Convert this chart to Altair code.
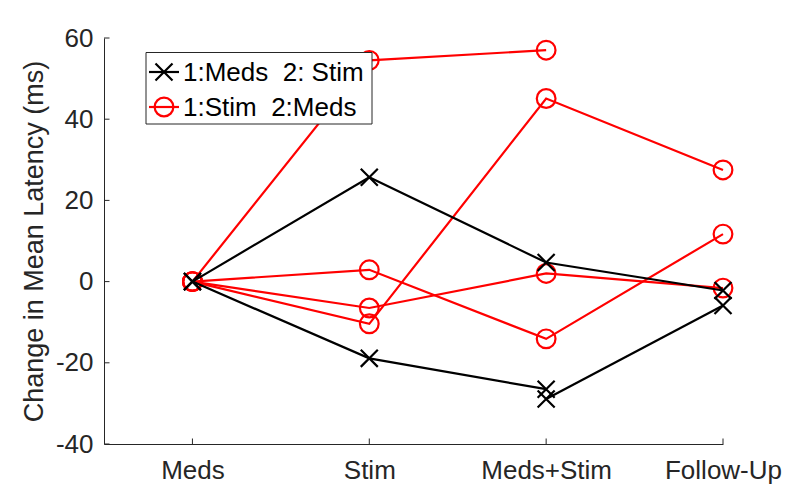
import altair as alt
import pandas as pd

# ---------------- data ----------------
stages = ["Meds", "Stim", "Meds+Stim", "Follow-Up"]
groups = ["1:Meds\u00a0 2: Stim", "1:Stim\u00a0 2:Meds"]

# group 1 (black, x markers)
meds_stim_a = [0, 25.7, 4.7, -2.2]
meds_stim_b = [0, -18.9, -26.5, None]
meds_stim_c = [None, None, -28.9, -5.9]
# group 2 (red, circles)
stim_meds_a = [0, 54.5, 57.0, None]
stim_meds_b = [0, -10.4, 45.1, 27.5]
stim_meds_c = [0, 2.9, -14.1, 11.7]
stim_meds_d = [0, -6.5, 2.0, -1.6]

y_ticks = [-40, -20, 0, 20, 40, 60]
x_ticks = [1, 2, 3, 4]

series = {
    ("g1", "a"): meds_stim_a,
    ("g1", "b"): meds_stim_b,
    ("g1", "c"): meds_stim_c,
    ("g2", "a"): stim_meds_a,
    ("g2", "b"): stim_meds_b,
    ("g2", "c"): stim_meds_c,
    ("g2", "d"): stim_meds_d,
}
rows = []
for (g, s), vals in series.items():
    for i, v in enumerate(vals):
        if v is not None:
            rows.append({"group": g, "series": g + s, "stage": i + 1, "value": v})
df = pd.DataFrame(rows)
df_black = df[df.group == "g1"]
df_red = df[df.group == "g2"]

# ---------------- style ----------------
W, H = 619, 406
AX = "#262626"
FONT = "Liberation Sans"
xscale = alt.Scale(domain=[0.5, 4], nice=False, zero=False)
yscale = alt.Scale(domain=[-40, 60], nice=False, zero=False)
label_expr = "[" + ",".join(f"'{s}'" for s in stages) + "][datum.value - 1]"

xaxis = alt.Axis(values=x_ticks, labelExpr=label_expr, title=None, ticks=False,
                 grid=False, domainColor=AX, domainWidth=1, labelColor=AX,
                 labelFontSize=26, labelFont=FONT, labelPadding=13,
                 labelFlush=False, labelOverlap=False)
yaxis = alt.Axis(values=y_ticks, labelExpr="datum.value + ''",
                 title="Change in Mean Latency (ms)", ticks=False,
                 grid=False, domainColor=AX, domainWidth=1, labelColor=AX,
                 labelFontSize=26, labelFont=FONT, labelPadding=11,
                 titleFontSize=27, titleFont=FONT, titleFontWeight="normal",
                 titleColor=AX, titlePadding=7, labelFlush=False, labelOverlap=False)

X = alt.X("stage:Q", scale=xscale, axis=xaxis)
Y = alt.Y("value:Q", scale=yscale, axis=yaxis)

XSHAPE = "M-1,-1L1,1M1,-1L-1,1"

red_lines = alt.Chart(df_red).mark_line(color="#FF0000", strokeWidth=2.2).encode(
    x=X, y=Y, detail="series:N")
red_pts = alt.Chart(df_red).mark_point(shape="circle", filled=False, size=350,
                                       color="#FF0000", strokeWidth=2.2, opacity=1).encode(
    x=X, y=Y)
black_lines = alt.Chart(df_black).mark_line(color="#000000", strokeWidth=2.2).encode(
    x=X, y=Y, detail="series:N")
black_pts = alt.Chart(df_black).mark_point(shape=XSHAPE, filled=False, size=290,
                                           color="#000000", strokeWidth=2.2, opacity=1).encode(
    x=X, y=Y)

# inward ticks
ytick_df = pd.DataFrame({"value": y_ticks})
xtick_df = pd.DataFrame({"stage": x_ticks})
yticks = alt.Chart(ytick_df).mark_rule(color=AX, strokeWidth=1).encode(
    y=Y, x=alt.value(0), x2=alt.value(5.5))
xticks = alt.Chart(xtick_df).mark_rule(color=AX, strokeWidth=1).encode(
    x=X, y=alt.value(H), y2=alt.value(H - 5.5))

# legend (drawn manually)
leg_df = pd.DataFrame({"label": groups})
box = alt.Chart(leg_df.head(1)).mark_rect(fill="white", stroke=AX, strokeWidth=1).encode(
    x=alt.value(42), x2=alt.value(268), y=alt.value(14.5), y2=alt.value(86))
rows_y = [34, 69]
leg_layers = [box]
for i, (col, shp, sz) in enumerate([("#000000", XSHAPE, 290), ("#FF0000", "circle", 350)]):
    ly = rows_y[i]
    leg_layers.append(alt.Chart(leg_df.iloc[[i]]).mark_rule(color=col, strokeWidth=2.2).encode(
        x=alt.value(45), x2=alt.value(75), y=alt.value(ly)))
    leg_layers.append(alt.Chart(leg_df.iloc[[i]]).mark_point(shape=shp, filled=False, size=sz,
                                                             color=col, strokeWidth=2.2, opacity=1).encode(
        x=alt.value(60), y=alt.value(ly)))
    leg_layers.append(alt.Chart(leg_df.iloc[[i]]).mark_text(align="left", baseline="middle",
                                                            font=FONT, fontSize=26, color="#000000").encode(
        x=alt.value(79), y=alt.value(ly + 1), text="label:N"))

chart = alt.layer(red_lines, red_pts, black_lines, black_pts, yticks, xticks, *leg_layers).properties(
    width=W, height=H,
    background="white",
    autosize=alt.AutoSizeParams(type="none"),
    padding={"left": 96, "top": 30, "right": 60, "bottom": 50},
).configure_view(strokeWidth=0, stroke="transparent")

chart.save("out.html", embed_options={"renderer": "svg", "actions": False})
